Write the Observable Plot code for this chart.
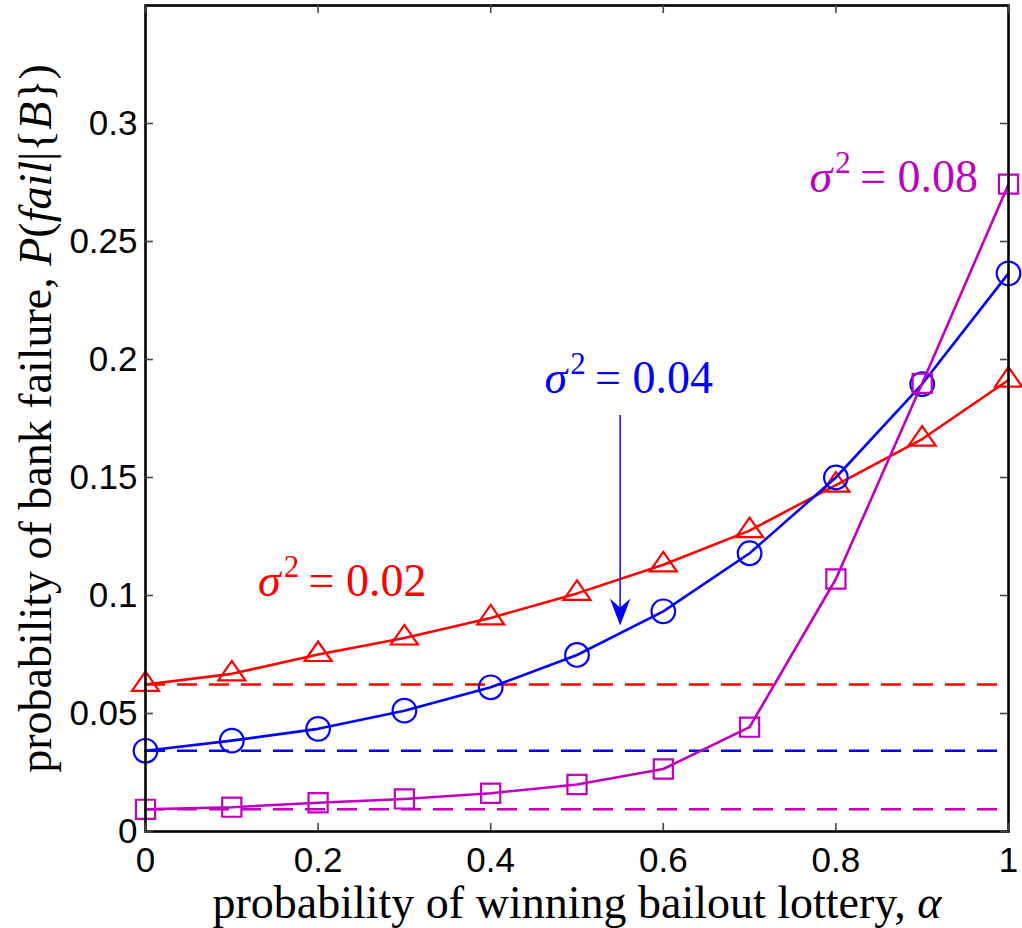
<!DOCTYPE html>
<html>
<head>
<meta charset="utf-8">
<script src="https://cdn.jsdelivr.net/npm/d3@7"></script>
<script src="https://cdn.jsdelivr.net/npm/@observablehq/plot@0.6"></script>
<style>
  body { margin: 0; background: #fff; }
  #chart svg { display: block; }
</style>
</head>
<body>
<div id="chart"></div>
<script>
// Probability of winning the bailout lottery
const alpha = [0, 0.1, 0.2, 0.3, 0.4, 0.5, 0.6, 0.7, 0.8, 0.9, 1];

// Probability of bank failure for each return variance
const failVar002 = [0.0623, 0.0668, 0.0750, 0.0820, 0.0905, 0.1009, 0.1130, 0.1275, 0.1468, 0.1663, 0.1913];
const failVar004 = [0.0342, 0.0385, 0.0435, 0.0512, 0.0611, 0.0748, 0.0933, 0.1179, 0.1500, 0.1896, 0.2365];
const failVar008 = [0.0094, 0.0103, 0.0122, 0.0138, 0.0162, 0.0199, 0.0265, 0.0442, 0.1070, 0.1899, 0.2743];

// Failure probability without any bailout (dashed reference levels)
const noBailout = [0.0623, 0.0342, 0.0094];

const variances = ["0.02", "0.04", "0.08"];
const colors = ["#ff0000", "#0000ff", "#bf00bf"];

const xTicks = [0, 0.2, 0.4, 0.6, 0.8, 1];
const yTicks = [0, 0.05, 0.1, 0.15, 0.2, 0.25, 0.3];

// Variance labels placed next to their curves
const labelX = [0.228, 0.56, 0.867];
const labelY = [0.100, 0.1856, 0.2709];

// Arrow pointing at the σ² = 0.04 curve
const arrowX = 0.55;
const arrowFrom = 0.1763;
const arrowTo = 0.0873;

const xTitle = "probability of winning bailout lottery, α";
const yTitle = "probability of bank failure, P(fail|{B})";

const serif = "'Liberation Serif', 'Times New Roman', serif";
const sans = "'Liberation Sans', Arial, Helvetica, sans-serif";

const series = [failVar002, failVar004, failVar008];
const rows = series.flatMap((vals, k) =>
  vals.map((v, i) => ({alpha: alpha[i], p: v, variance: variances[k]}))
);

// Open triangle, centroid on the data point
const triangleOpen = {
  draw(context) {
    context.moveTo(0, -13);
    context.lineTo(13.5, 6.5);
    context.lineTo(-13.5, 6.5);
    context.closePath();
  }
};
// Filled arrowhead with a notched back; tip at the data point
const arrowHead = {
  draw(context) {
    context.moveTo(0, 0);
    context.lineTo(10.3, -27);
    context.lineTo(0, -18);
    context.lineTo(-10.3, -27);
    context.closePath();
  }
};
const symbols = [triangleOpen, "circle", "square"];
const symbolR = [10, 11.8, 10.8];

const W = 1022, H = 928;
const mL = 145, mR = 14, mT = 5, mB = 97;
const innerW = W - mL - mR, innerH = H - mT - mB;
const tickLen = 8;

const marks = [];

// dashed no-bailout levels
noBailout.forEach((v, k) => {
  marks.push(Plot.ruleY([v], {
    x1: 0, x2: 1, stroke: colors[k], strokeWidth: 2.6,
    strokeDasharray: "20,12"
  }));
});

// curves with markers
variances.forEach((vv, k) => {
  const data = rows.filter(d => d.variance === vv);
  marks.push(Plot.line(data, {x: "alpha", y: "p", stroke: colors[k], strokeWidth: 2.6}));
  marks.push(Plot.dot(data, {
    x: "alpha", y: "p", symbol: symbols[k], r: symbolR[k],
    stroke: colors[k], strokeWidth: 2.2, fill: "none"
  }));
});

// arrow
marks.push(Plot.ruleX([arrowX], {y1: arrowFrom, y2: arrowTo + 0.0075, stroke: "#1a1aff", strokeWidth: 1.6}));
marks.push(Plot.dot([arrowX], {x: d => d, y: () => arrowTo, symbol: arrowHead, r: 5, fill: "#0000ff", stroke: "none"}));

// variance labels
marks.push(Plot.text(variances, {
  x: (d, i) => labelX[i], y: (d, i) => labelY[i],
  text: d => `σ2 = ${d}`, fill: (d, i) => colors[i],
  fontSize: 46, fontFamily: serif, textAnchor: "middle", lineAnchor: "bottom"
}));

// frame and inward ticks on all four sides
marks.push(Plot.frame({stroke: "#000", strokeWidth: 2.6}));
marks.push(Plot.tickX(xTicks, {x: d => d, insetTop: innerH - tickLen, stroke: "#444", strokeWidth: 1.6}));
marks.push(Plot.tickX(xTicks, {x: d => d, insetBottom: innerH - tickLen, stroke: "#444", strokeWidth: 1.6}));
marks.push(Plot.tickY(yTicks, {y: d => d, insetRight: innerW - tickLen, stroke: "#444", strokeWidth: 1.6}));
marks.push(Plot.tickY(yTicks, {y: d => d, insetLeft: innerW - tickLen, stroke: "#444", strokeWidth: 1.6}));

// tick labels
const fmt = d3.format("~g");
marks.push(Plot.axisX(xTicks, {tickSize: 0, tickPadding: 16, tickFormat: fmt, fontSize: 35, fontFamily: sans, fill: "#000", label: null}));
marks.push(Plot.axisY(yTicks, {tickSize: 0, tickPadding: 8, tickFormat: fmt, fontSize: 35, fontFamily: sans, fill: "#000", label: null}));

// axis titles
marks.push(Plot.text([xTitle], {
  frameAnchor: "bottom", dy: 86, text: d => d, fontSize: 46, fontFamily: serif,
  textAnchor: "middle", lineAnchor: "bottom", fill: "#000"
}));
marks.push(Plot.text([yTitle], {
  frameAnchor: "left", dx: -95, rotate: -90, text: d => d, fontSize: 46, fontFamily: serif,
  textAnchor: "middle", lineAnchor: "bottom", fill: "#000"
}));

const chart = Plot.plot({
  width: W, height: H,
  marginLeft: mL, marginRight: mR, marginTop: mT, marginBottom: mB,
  style: {background: "#fff", overflow: "visible"},
  x: {domain: [0, 1]},
  y: {domain: [0, 0.35]},
  marks
});
document.getElementById("chart").appendChild(chart);

// Rich text: italic math symbols and a raised exponent
function setRich(el, parts) {
  el.textContent = "";
  const ns = "http://www.w3.org/2000/svg";
  parts.forEach(p => {
    const t = document.createElementNS(ns, "tspan");
    t.textContent = p.text;
    if (p.italic) t.setAttribute("font-style", "italic");
    if (p.size) t.setAttribute("font-size", p.size);
    if (p.dx) t.setAttribute("dx", p.dx);
    if (p.dy) t.setAttribute("dy", p.dy);
    el.appendChild(t);
  });
}
d3.select(chart).selectAll("text").each(function () {
  const s = this.textContent;
  if (s.startsWith("σ2 = ")) {
    const v = s.slice(5);
    setRich(this, [
      {text: "σ", italic: true},
      {text: "2", size: 31, dx: 3, dy: -19},
      {text: "\u2009= " + v, dy: 19}
    ]);
  } else if (s === xTitle) {
    setRich(this, [{text: "probability of winning bailout lottery, "}, {text: "α", italic: true}]);
  } else if (s === yTitle) {
    setRich(this, [
      {text: "probability of bank failure, "}, {text: "P", italic: true}, {text: "("},
      {text: "fail", italic: true}, {text: "|{"}, {text: "B", italic: true}, {text: "})"}
    ]);
  }
});
</script>
</body>
</html>
